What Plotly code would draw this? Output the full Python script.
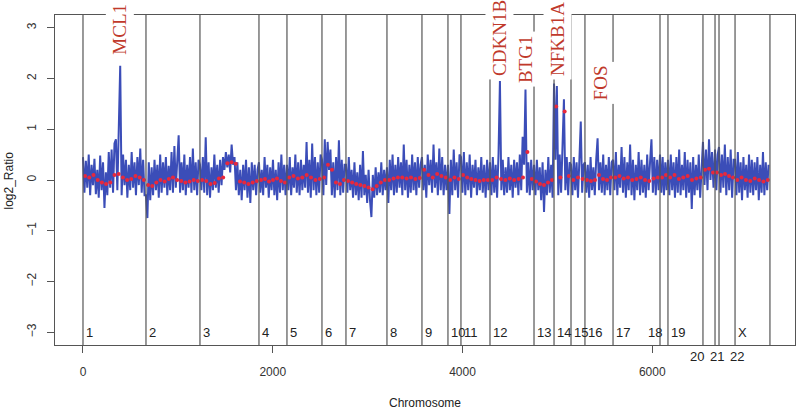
import numpy as np
import plotly.graph_objects as go

# ---------------- data ----------------
chrom_names = ["1", "2", "3", "4", "5", "6", "7", "8", "9", "10", "11", "12",
               "13", "14", "15", "16", "17", "18", "19", "20", "21", "22", "X"]
chrom_starts = [0, 664, 1233, 1855, 2150, 2519, 2772, 3204, 3573, 3847, 3984, 4290,
                4754, 4965, 5144, 5291, 5587, 6082, 6166, 6535, 6662, 6704, 6873]
chrom_end = 7241

ratio_1 = [0.45, -0.25, 0.38, -0.15, 0.5, -0.3, 0.3, -0.1, 0.42, -0.28, 0.2, -0.35, 0.48, -0.2, 0.35,
           -0.55, 0.15, -0.3, 0.55, -0.15, 0.6, -0.25, 0.72, 0.8, -0.2, 0.95, 2.25, -0.3, 0.5, -0.1,
           0.4, -0.35, 0.3, -0.2, 0.55, -0.15, 0.35, -0.3, 0.45, -0.1, 0.62, -0.25, 0.4, -0.3]
ratio_2 = [-0.3, -0.75, 0.35, -0.4, 0.25, -0.3, 0.4, -0.2, 0.3, -0.35, 0.5, -0.25, 0.35, -0.15, 0.45,
           -0.3, 0.28, -0.2, 0.55, -0.25, 0.67, -0.15, 0.4, 0.88, -0.25, 0.35, -0.2, 0.5, -0.3, 0.3,
           -0.15, 0.45, -0.25, 0.62, -0.2, 0.35, -0.3, 0.4]
ratio_3 = [0.3, -0.2, 0.45, -0.25, 0.84, -0.3, 0.35, -0.35, 0.25, -0.2, 0.5, -0.15, 0.3, -0.25, 0.4,
           -0.1, 0.45, 0.2, 0.55, 0.25, 0.5, 0.15, 0.7, 0.3, 0.45, -0.2, 0.35, -0.3, 0.2, -0.4,
           0.3, -0.2, 0.4, -0.35, 0.25, -0.45, 0.35, -0.2, 0.3, -0.3, 0.2]
ratio_4 = [0.35, -0.25, 0.2, -0.3, 0.45, -0.15, 0.3, -0.35, 0.25, -0.2, 0.4, -0.3, 0.2, -0.4, 0.35,
           -0.25, 0.5, -0.2, 0.3, -0.3]
ratio_5 = [0.3, -0.2, 0.45, -0.3, 0.25, -0.15, 0.5, -0.25, 0.35, -0.3, 0.4, -0.2, 0.3, -0.15, 0.75,
           -0.25, 0.4, -0.35, 0.72, -0.2, 0.45, -0.3, 0.35, -0.25, 0.5]
ratio_6 = [0.4, -0.3, 0.8, -0.1, 0.75, 0.2, 0.6, -0.3, 0.35, -0.35, 0.45, -0.2, 0.78, -0.3, 0.4,
           -0.25, 0.3]
ratio_7 = [0.3, -0.25, 0.45, -0.2, 0.2, -0.35, 0.35, -0.3, 0.15, -0.4, 0.3, -0.35, 0.57, -0.3, 0.1,
           -0.45, 0.2, -0.4, -0.73, 0.1, -0.35, 0.25, -0.3, 0.15, -0.25, 0.35, -0.3, 0.2, -0.2]
ratio_8 = [0.25, -0.45, 0.4, -0.2, 0.5, -0.3, 0.3, -0.25, 0.45, -0.15, 0.35, -0.3, 0.7, -0.2, 0.4,
           -0.35, 0.3, -0.25, 0.5, -0.2, 0.35, -0.3, 0.45, -0.15, 0.3]
ratio_9 = [0.45, -0.2, 0.3, -0.35, 0.5, -0.1, 0.4, -0.25, 0.7, -0.15, 0.35, -0.3, 0.62, -0.2, 0.45,
           -0.3, 0.3, -0.2]
ratio_10 = [0.3, -0.67, 0.4, -0.3, 0.6, -0.2, 0.35, -0.35, 0.5]
ratio_11 = [0.45, -0.25, 0.55, -0.3, 0.35, -0.2, 0.5, -0.35, 0.3, -0.15, 0.4, -0.3, 0.25, -0.2, 0.45,
            -0.25, 0.3, -0.35, 0.4, -0.2]
ratio_12 = [0.35, -0.3, 0.45, -0.25, 0.3, -0.35, 0.5, 1.95, -0.2, 0.4, -0.3, 0.25, -0.25, 0.45, -0.2,
            0.3, -0.35, 0.4, -0.15, 0.35, -0.3, 0.5, -0.2, 0.85, 0.3, 1.78, -0.25, 0.35, -0.3, 0.4,
            -0.2]
ratio_13 = [0.3, -0.3, 0.4, -0.2, 0.25, -0.4, 0.35, -0.63, 0.2, -0.3, 0.45, -0.25, 0.3, -0.35]
ratio_14 = [1.9, 0.4, 1.85, -0.3, 0.5, -0.25, 0.7, 1.59, -0.2, 0.45, -0.3, 0.35]
ratio_15 = [0.3, -0.3, 0.45, -0.2, 0.35, -0.35, 0.4, 1.15, -0.25, 0.3]
ratio_16 = [0.35, -0.25, 0.3, -0.35, 0.45, -0.2, 0.25, -0.3, 0.4, 0.82, -0.2, 0.35, -0.25, 0.5, -0.3,
            0.3, -0.2, 0.45, -0.3, 0.35]
ratio_17 = [0.4, -0.2, 0.55, -0.3, 0.3, -0.15, 0.65, -0.25, 0.45, -0.35, 0.35, -0.2, 0.7, -0.3, 0.4,
            -0.4, 0.3, -0.2, 0.55, -0.3, 0.4, -0.25, 0.3, -0.35, 0.5, -0.2, 0.35, 0.8, -0.25, 0.45,
            -0.3, 0.4, -0.2]
ratio_18 = [0.5, -0.25, 0.45, -0.3, 0.35, -0.2]
ratio_19 = [0.4, -0.3, 0.5, -0.2, 0.35, -0.35, 0.45, -0.25, 0.6, -0.3, 0.3, -0.2, 0.55, -0.35, 0.4,
            -0.25, 0.35, -0.57, 0.45, -0.3, 0.3, -0.2, 0.5, -0.35, 0.35]
ratio_20 = [0.75, -0.1, 0.6, -0.2, 0.8, 0.0, 0.55, -0.15]
ratio_21 = [0.6, -0.2, 0.5]
ratio_22 = [0.65, -0.25, 0.5, -0.15, 0.7, -0.3, 0.45, -0.2, 0.6, -0.35, 0.4]
ratio_X = [0.4, -0.3, 0.55, -0.25, 0.35, -0.4, 0.45, -0.2, 0.3, -0.35, 0.5, -0.25, 0.4, -0.3, 0.35,
           -0.2, 0.45, -0.4, 0.3, -0.25, 0.55, -0.3, 0.35, -0.2, 0.3]

smooth_1 = [0.08, 0.05, 0.1, 0.0, -0.05, -0.08, -0.05, 0.1, 0.12, 0.05, 0.0, 0.02, 0.08, 0.05, 0.0]
smooth_2 = [-0.1, -0.12, -0.05, 0.0, -0.03, 0.02, 0.05, 0.0, -0.02, -0.05, -0.03, 0.0, -0.02]
smooth_3 = [0.0, -0.02, -0.08, -0.06, 0.03, 0.05, 0.33, 0.35, 0.32, -0.03, -0.05, -0.08, -0.05, -0.02]
smooth_4 = [0.0, 0.02, -0.03, 0.0, 0.03, -0.02, -0.05]
smooth_5 = [0.05, 0.08, 0.03, 0.05, 0.1, 0.05, 0.0, 0.02]
smooth_6 = [0.05, 0.3, 0.2, -0.05, -0.08, 0.0]
smooth_7 = [-0.02, -0.05, -0.08, -0.1, -0.12, -0.15, -0.18, -0.12, -0.05, 0.0]
smooth_8 = [0.0, 0.03, 0.05, 0.05, 0.03, 0.05, 0.02, 0.04]
smooth_9 = [0.2, 0.1, 0.05, 0.12, 0.08, 0.05]
smooth_10 = [0.0, 0.05, 0.02]
smooth_11 = [0.1, 0.05, 0.02, 0.0, -0.02, 0.0, 0.0]
smooth_12 = [0.0, 0.05, 0.02, 0.0, 0.03, 0.0, 0.02, 0.05, 0.55, 0.02]
smooth_13 = [-0.03, -0.08, -0.1, -0.05, 0.0]
smooth_14 = [1.45, 0.05, 1.35, 0.08]
smooth_15 = [0.0, 0.05, 0.02]
smooth_16 = [0.0, -0.02, 0.0, 0.1, 0.02, 0.0, 0.05]
smooth_17 = [0.05, 0.08, 0.03, 0.05, 0.0, 0.02, 0.05, 0.0, -0.02, 0.03, 0.05]
smooth_18 = [0.05, 0.1]
smooth_19 = [0.05, 0.1, 0.02, 0.05, 0.08, 0.0, 0.03, 0.05]
smooth_20 = [0.2, 0.22, 0.15]
smooth_21 = [0.15]
smooth_22 = [0.1, 0.12, 0.08, 0.05]
smooth_X = [0.0, 0.05, 0.0, -0.02, 0.03, 0.0, -0.03, 0.0]

gene_names = ["MCL1", "CDKN1B", "BTG1", "NFKB1A", "FOS"]
gene_pos = [390, 4395, 4659, 5007, 5450]
gene_label_base = [2.40, 1.97, 1.83, 1.97, 1.48]

x_ticks = [0, 2000, 4000, 6000]
y_ticks = [-3, -2, -1, 0, 1, 2, 3]

ratios = [ratio_1, ratio_2, ratio_3, ratio_4, ratio_5, ratio_6, ratio_7, ratio_8, ratio_9,
          ratio_10, ratio_11, ratio_12, ratio_13, ratio_14, ratio_15, ratio_16, ratio_17,
          ratio_18, ratio_19, ratio_20, ratio_21, ratio_22, ratio_X]
smooths = [smooth_1, smooth_2, smooth_3, smooth_4, smooth_5, smooth_6, smooth_7, smooth_8,
           smooth_9, smooth_10, smooth_11, smooth_12, smooth_13, smooth_14, smooth_15,
           smooth_16, smooth_17, smooth_18, smooth_19, smooth_20, smooth_21, smooth_22, smooth_X]

# ---------------- build ----------------
bounds = chrom_starts + [chrom_end]
xr, yr, xs, ys = [], [], [], []
for i, (r, s) in enumerate(zip(ratios, smooths)):
    a, b = bounds[i], bounds[i + 1]
    xr.extend(np.linspace(a, b, len(r), endpoint=False))
    yr.extend(r)
    xs.extend(np.linspace(a, b, len(s), endpoint=False) + (b - a) / len(s) / 2)
    ys.extend(s)

fig = go.Figure()
fig.add_trace(go.Scatter(x=xr, y=yr, mode="lines",
                         line=dict(color="#3B4DB8", width=2), hoverinfo="skip"))
fig.add_trace(go.Scatter(x=xs, y=ys, mode="markers",
                         marker=dict(color="#E8283C", size=4, line=dict(width=0)),
                         hoverinfo="skip"))

# chromosome boundary lines
for bx in bounds:
    fig.add_shape(type="line", x0=bx, x1=bx, y0=0, y1=1, xref="x", yref="paper",
                  line=dict(color="#555555", width=1.2), layer="above")

# chromosome labels
lab_font = dict(family="Liberation Sans, Arial, sans-serif", size=13, color="#222222")
below = {"20": 6472, "21": 6683, "22": 6894}
for name, st in zip(chrom_names, chrom_starts):
    if name in below:
        fig.add_annotation(x=below[name], y=-0.036, xref="x", yref="paper", text=name,
                           showarrow=False, font=lab_font, xanchor="center", yanchor="middle")
    else:
        xpos = 5924 if name == "18" else st
        fig.add_annotation(x=xpos, y=-3, xref="x", yref="y", text=name, showarrow=False,
                           font=lab_font, xanchor="left", yanchor="middle", xshift=1)

# gene labels (rotated, reading upward, sitting above the peak)
for g, gx, gy in zip(gene_names, gene_pos, gene_label_base):
    fig.add_annotation(x=gx, y=gy, xref="x", yref="y", text=g, showarrow=False,
                       textangle=-90, bgcolor="white", borderpad=3,
                       font=dict(family="Liberation Serif, Times New Roman, serif",
                                 size=19, color="#C0392B"),
                       xanchor="center", yanchor="bottom")

# axis titles
ttl_font = dict(family="Liberation Sans, Arial, sans-serif", size=12, color="#222222")
fig.add_annotation(x=0.5, y=-0.175, xref="paper", yref="paper", text="Chromosome",
                   showarrow=False, font=ttl_font, xanchor="center", yanchor="middle")
fig.add_annotation(x=-0.0615, y=0.5, xref="paper", yref="paper", text="log2_Ratio",
                   showarrow=False, font=ttl_font, textangle=-90,
                   xanchor="center", yanchor="middle")

fig.update_layout(
    width=800, height=410,
    margin=dict(l=55, r=5, t=15, b=65, autoexpand=False),
    plot_bgcolor="white", paper_bgcolor="white",
    showlegend=False,
    font=dict(family="Liberation Sans, Arial, sans-serif", size=12, color="#333333"),
)
fig.update_xaxes(range=[-295, 7505], tickvals=x_ticks, ticks="outside", ticklen=7,
                 tickcolor="#555555", showgrid=False, zeroline=False, automargin=False,
                 showline=True, linecolor="#555555", linewidth=1.2, mirror=True,
                 ticklabelstandoff=8, tickfont=dict(size=12, color="#333333"))
fig.update_yaxes(range=[-3.25, 3.25], tickvals=y_ticks, ticks="outside", ticklen=7,
                 tickcolor="#555555", showgrid=False, zeroline=False, automargin=False,
                 showline=True, linecolor="#555555", linewidth=1.2, mirror=True,
                 tickangle=-90, ticklabelstandoff=6, tickfont=dict(size=12, color="#333333"))

fig.write_html("out.html", config={"displayModeBar": False},
               post_script="document.body.style.margin='0';document.body.style.overflow='hidden';")
